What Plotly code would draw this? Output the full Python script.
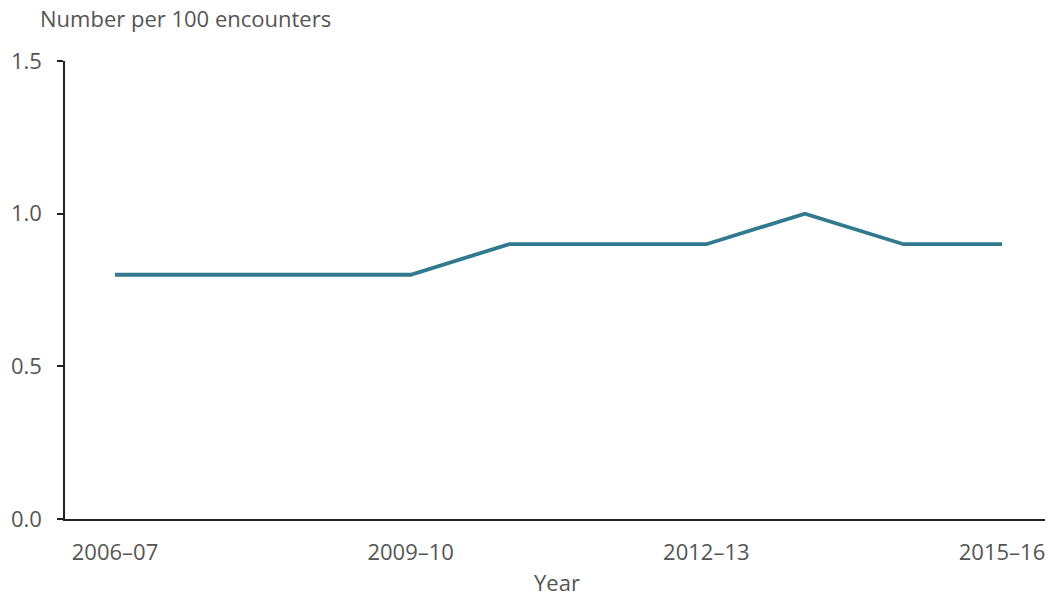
import plotly.graph_objects as go

years = ["2006–07", "2007–08", "2008–09", "2009–10", "2010–11",
         "2011–12", "2012–13", "2013–14", "2014–15", "2015–16"]
values = [0.8, 0.8, 0.8, 0.8, 0.9, 0.9, 0.9, 1.0, 0.9, 0.9]
tick_years = ["2006–07", "2009–10", "2012–13", "2015–16"]
y_ticks = [0, 0.5, 1.0, 1.5]
y_ticktext = ["0.0", "0.5", "1.0", "1.5"]

W, H = 1045, 598
L, R, T, B = 65, 0, 61, 79
pw, ph = W - L - R, H - T - B

tick_font = dict(family="Open Sans, sans-serif", size=22, color="#555555")
title_font = dict(family="Open Sans, sans-serif", size=22, color="#555555")

fig = go.Figure()
fig.add_trace(go.Scatter(x=years, y=values, mode="lines",
                         line=dict(color="#31798F", width=3.8),
                         hoverinfo="x+y"))

fig.update_layout(
    width=W, height=H,
    margin=dict(l=L, r=R, t=T, b=B),
    paper_bgcolor="white", plot_bgcolor="white",
    font=tick_font, showlegend=False,
    xaxis=dict(type="category", categoryorder="array", categoryarray=years,
               range=[-0.507, 9.436], tickmode="array", tickvals=tick_years,
               ticktext=tick_years, showgrid=False, zeroline=False,
               showline=True, linecolor="#222222", linewidth=1.5,
               ticks="", ticklabelstandoff=13, tickfont=tick_font),
    yaxis=dict(range=[0, 1.5], tickmode="array", tickvals=y_ticks,
               ticktext=y_ticktext, showgrid=False, zeroline=False,
               showline=True, linecolor="#222222", linewidth=1.5,
               ticks="outside", ticklen=6, tickcolor="#222222", tickwidth=1.5,
               ticklabelstandoff=11, tickfont=tick_font),
    annotations=[
        dict(text="Number per 100 encounters", xref="paper", yref="paper",
             x=(38 - L) / pw, y=1 + (T - 18) / ph,
             xanchor="left", yanchor="middle", showarrow=False,
             font=title_font),
        dict(text="Year", xref="paper", yref="paper",
             x=(557 - L) / pw, y=-(582 - (T + ph)) / ph,
             xanchor="center", yanchor="middle", showarrow=False,
             font=title_font),
    ],
)

fig.write_html("out.html", config={"displayModeBar": False},
               post_script="document.body.style.margin='0';document.body.style.overflow='hidden';")
